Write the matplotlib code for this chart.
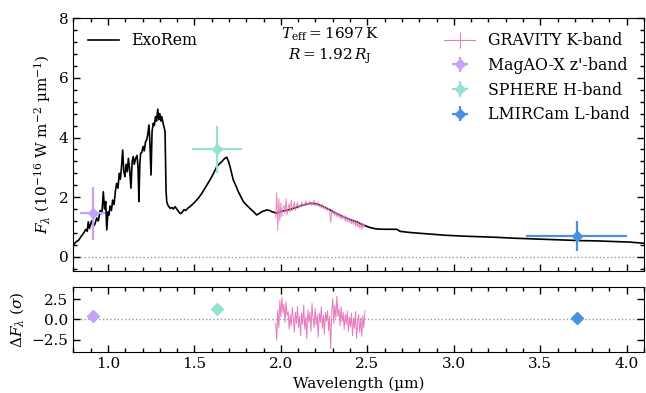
import numpy as np
import matplotlib
matplotlib.use("Agg")
from matplotlib import pyplot as plt
from matplotlib.ticker import MultipleLocator

plt.rcParams['font.family'] = ['DejaVu Serif']
plt.rcParams['mathtext.fontset'] = 'dejavuserif'

# ExoRem model spectrum
model_wl = [0.800, 0.815, 0.830, 0.845, 0.860, 0.872, 0.880, 0.886, 0.893, 0.905,
            0.915, 0.925, 0.935, 0.944, 0.955, 0.965, 0.973, 0.980, 0.987, 0.993,
            1.000, 1.006, 1.012, 1.020, 1.027, 1.035, 1.043, 1.050, 1.058, 1.065,
            1.072, 1.078, 1.085, 1.091, 1.098, 1.105, 1.112, 1.118, 1.125, 1.133,
            1.140, 1.146, 1.152, 1.160, 1.168, 1.174, 1.179, 1.184, 1.189, 1.196,
            1.203, 1.210, 1.217, 1.224, 1.230, 1.237, 1.242, 1.249, 1.255, 1.262,
            1.268, 1.275, 1.281, 1.288, 1.294, 1.300, 1.306, 1.311, 1.318, 1.324,
            1.330, 1.336, 1.340, 1.345, 1.352, 1.360, 1.370, 1.378, 1.388, 1.398,
            1.410, 1.420, 1.430, 1.440, 1.450, 1.460, 1.470, 1.484, 1.500, 1.522,
            1.540, 1.561, 1.580, 1.600, 1.615, 1.629, 1.645, 1.658, 1.672, 1.687,
            1.697, 1.706, 1.715, 1.725, 1.740, 1.754, 1.770, 1.783, 1.800, 1.821,
            1.840, 1.860, 1.875, 1.889, 1.905, 1.918, 1.935, 1.947, 1.960, 1.976,
            2.000, 2.030, 2.072, 2.120, 2.168, 2.200, 2.226, 2.260, 2.284, 2.320,
            2.361, 2.400, 2.439, 2.470, 2.496, 2.520, 2.554, 2.600, 2.650, 2.670,
            2.690, 2.750, 2.862, 2.950, 3.055, 3.150, 3.248, 3.350, 3.441, 3.540,
            3.634, 3.730, 3.827, 3.920, 4.019, 4.100]
model_flux = [0.39, 0.50, 0.55, 0.68, 0.80, 0.92, 0.85, 1.17, 0.95, 1.20,
              1.02, 1.10, 1.30, 1.20, 1.55, 1.45, 2.18, 1.60, 1.85, 0.90,
              1.50, 1.40, 1.70, 1.55, 1.90, 1.75, 2.20, 2.46, 2.30, 2.80,
              2.60, 3.00, 3.58, 2.90, 2.68, 3.10, 2.85, 3.30, 2.95, 2.30,
              3.20, 3.36, 3.10, 3.30, 3.40, 3.00, 1.85, 3.10, 3.47, 3.50,
              3.70, 3.55, 3.85, 3.92, 4.10, 4.42, 3.90, 2.74, 4.20, 4.48,
              4.40, 4.70, 4.55, 4.95, 4.60, 4.80, 4.55, 4.70, 4.50, 4.36,
              4.20, 2.20, 1.85, 1.75, 1.68, 1.62, 1.65, 1.60, 1.68, 1.60,
              1.50, 1.44, 1.50, 1.58, 1.55, 1.62, 1.66, 1.73, 1.82, 1.96,
              2.10, 2.30, 2.48, 2.68, 2.85, 3.02, 3.12, 3.19, 3.28, 3.34,
              3.20, 3.02, 2.80, 2.57, 2.38, 2.18, 2.00, 1.85, 1.74, 1.62,
              1.52, 1.40, 1.45, 1.51, 1.54, 1.57, 1.55, 1.51, 1.49, 1.46,
              1.52, 1.55, 1.62, 1.72, 1.79, 1.78, 1.73, 1.64, 1.57, 1.45,
              1.34, 1.24, 1.17, 1.08, 1.02, 0.97, 0.93, 0.92, 0.92, 0.92,
              0.85, 0.81, 0.76, 0.72, 0.69, 0.67, 0.65, 0.62, 0.60, 0.58,
              0.56, 0.54, 0.53, 0.51, 0.49, 0.45]

# GRAVITY K-band spectrum and residuals
grav_wl = [1.970, 1.976, 1.982, 1.988, 1.994, 2.000, 2.006, 2.012, 2.018, 2.024,
           2.030, 2.036, 2.042, 2.048, 2.054, 2.060, 2.066, 2.072, 2.078, 2.084,
           2.090, 2.096, 2.102, 2.108, 2.114, 2.120, 2.126, 2.132, 2.138, 2.144,
           2.150, 2.156, 2.162, 2.168, 2.174, 2.180, 2.186, 2.192, 2.198, 2.204,
           2.210, 2.216, 2.222, 2.228, 2.234, 2.240, 2.246, 2.252, 2.258, 2.264,
           2.270, 2.276, 2.282, 2.288, 2.294, 2.300, 2.306, 2.312, 2.318, 2.324,
           2.330, 2.336, 2.342, 2.348, 2.354, 2.360, 2.366, 2.372, 2.378, 2.384,
           2.390, 2.396, 2.402, 2.408, 2.414, 2.420, 2.426, 2.432, 2.438, 2.444,
           2.450, 2.456, 2.462, 2.468, 2.474, 2.480, 2.486]
grav_flux = [1.30, 2.15, 0.88, 1.95, 1.20, 1.80, 1.35, 1.62, 1.72, 1.45,
             1.95, 1.40, 1.62, 1.78, 1.50, 1.90, 1.55, 1.65, 1.85, 1.55,
             1.70, 1.82, 1.62, 1.74, 1.66, 1.84, 1.70, 1.76, 1.72, 1.88,
             1.74, 1.80, 1.76, 1.86, 1.72, 1.80, 1.78, 1.90, 1.70, 1.78,
             1.74, 1.84, 1.68, 1.74, 1.64, 1.76, 1.62, 1.68, 1.58, 1.66,
             1.54, 1.62, 1.56, 1.14, 1.55, 1.44, 1.52, 1.38, 1.50, 1.34,
             1.46, 1.32, 1.44, 1.26, 1.40, 1.28, 1.38, 1.20, 1.34, 1.18,
             1.30, 1.16, 1.28, 1.10, 1.24, 1.08, 1.22, 1.02, 1.20, 1.00,
             1.16, 0.96, 1.14, 0.92, 1.12, 0.98, 1.08]
grav_res = [-0.5, -2.6, 1.2, -1.0, 2.4, 0.3, 2.8, 0.8, 1.9, -0.4,
            2.2, 0.5, 1.0, -1.2, 0.6, -0.8, 1.5, 0.2, -1.6, 0.9,
            -0.5, 1.6, -1.0, 0.4, -2.0, 0.8, -0.6, 1.8, -1.2, 0.3,
            -2.4, 1.2, -0.3, 0.9, -1.5, 2.0, 0.1, -1.0, 1.4, -0.7,
            0.6, -2.2, 0.8, -0.4, 1.6, -1.1, 0.5, -1.8, 0.9, -0.2,
            1.1, -1.4, 0.4, -3.6, 0.7, 2.6, -0.5, 1.8, 0.2, 2.9,
            0.4, 1.3, -0.8, 1.6, -0.3, 0.9, -1.2, 0.6, -0.6, 1.1,
            -1.5, 0.3, -0.9, 0.8, -2.0, 0.2, -1.1, 1.0, -2.3, -0.4,
            0.6, -1.6, 0.2, -2.1, 0.5, -1.0, 1.1]

# photometry
phot_names = ["MagAO-X z'-band", "SPHERE H-band", "LMIRCam L-band"]
phot_wl = [0.911, 1.629, 3.71]
phot_wl_err = [0.07, 0.145, 0.29]
phot_flux = [1.45, 3.60, 0.69]
phot_flux_err = [0.90, 0.80, 0.51]
phot_res = [0.41, 1.33, 0.20]
phot_colors = ['#c3a3f7', '#94e2d2', '#4a8fe0']
grav_color = '#e57bbd'

fig = plt.figure(figsize=(6.46, 3.93), dpi=100)
ax1 = fig.add_axes([0.1136, 0.3112, 0.8833, 0.6422])
ax2 = fig.add_axes([0.1136, 0.1051, 0.8833, 0.1639])

ax1.axhline(0, color='0.6', ls=':', lw=1.0, zorder=0)
ax2.axhline(0, color='0.6', ls=':', lw=1.0, zorder=0)

model_line, = ax1.plot(model_wl, model_flux, color='black', lw=1.2, label='ExoRem', zorder=2)
ax1.plot(grav_wl, grav_flux, color=grav_color, lw=0.7, alpha=0.9, zorder=3)
grav_handle = ax1.errorbar([], [], yerr=[], color=grav_color, lw=0.8, elinewidth=0.8)

handles = [grav_handle]
for i in range(3):
    h = ax1.errorbar(phot_wl[i], phot_flux[i], xerr=phot_wl_err[i], yerr=phot_flux_err[i],
                     marker='D', ms=5, ls='none', color=phot_colors[i], elinewidth=1.6, zorder=4)
    handles.append(h)
    ax2.plot(phot_wl[i], phot_res[i], marker='D', ms=6, ls='none', color=phot_colors[i])

ax2.plot(grav_wl, grav_res, color=grav_color, lw=0.7)

leg1 = ax1.legend(handles=[model_line], loc='upper left', frameon=False, fontsize=11.3)
ax1.add_artist(leg1)
ax1.legend(handles, ["GRAVITY K-band"] + phot_names, loc='upper right', frameon=False,
           fontsize=11.3, labelspacing=0.48)

ax1.text(0.45, 0.97, "$T_\\mathrm{eff} = 1697\\,\\mathrm{K}$\n$R = 1.92\\,R_\\mathrm{J}$",
         transform=ax1.transAxes, ha='center', va='top', fontsize=11, linespacing=1.25)

ax1.set_xlim(0.8, 4.1)
ax2.set_xlim(0.8, 4.1)
ax1.set_ylim(-0.47, 8)
ax2.set_ylim(-4, 4)

for ax in [ax1, ax2]:
    ax.xaxis.set_major_locator(MultipleLocator(0.5))
    ax.xaxis.set_minor_locator(MultipleLocator(0.1))
    ax.tick_params(which='both', direction='in', top=True, right=True, labelsize=11)
    ax.tick_params(which='major', length=5, width=1)
    ax.tick_params(which='minor', length=3, width=1)
ax1.yaxis.set_major_locator(MultipleLocator(2))
ax1.yaxis.set_minor_locator(MultipleLocator(0.4))
ax2.yaxis.set_major_locator(MultipleLocator(2.5))
ax1.set_xticklabels([])

ax1.set_ylabel("$F_\\lambda$ (10$^{-16}$ W m$^{-2}$ µm$^{-1}$)", fontsize=11)
ax2.set_ylabel("$\\Delta F_\\lambda$ ($\\sigma$)", fontsize=11)
ax2.set_xlabel("Wavelength (µm)", fontsize=11)

plt.savefig('out.png', dpi=100)
